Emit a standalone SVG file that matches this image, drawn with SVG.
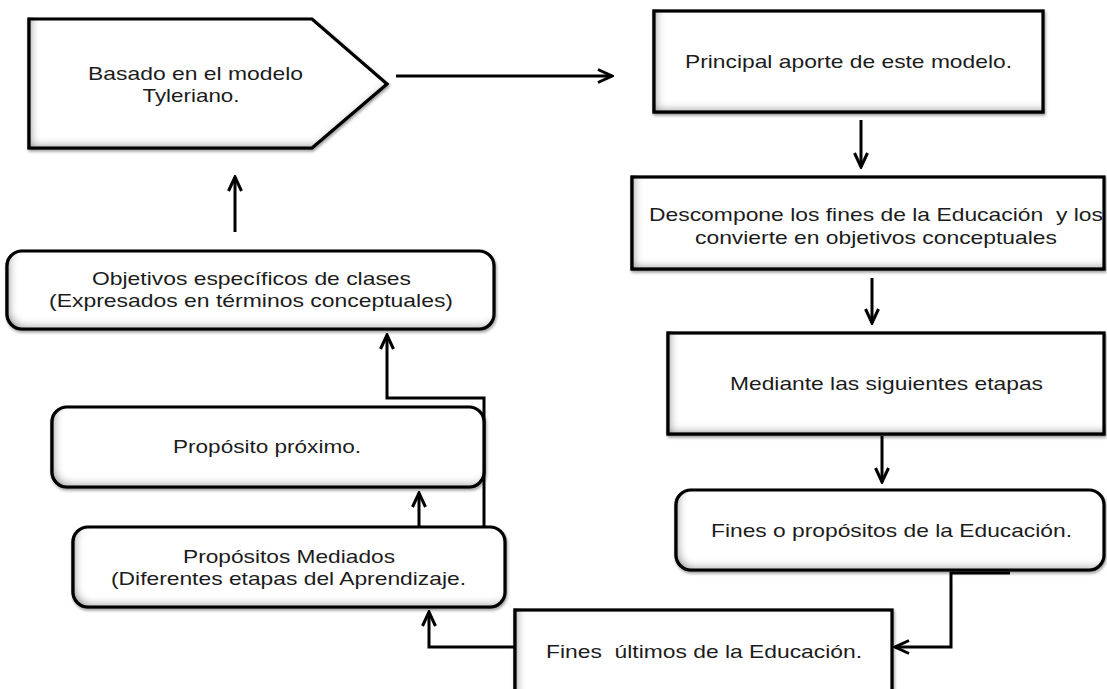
<svg xmlns="http://www.w3.org/2000/svg" width="1107" height="689" viewBox="0 0 1107 689">
<style>
.box{fill:#fff;stroke:#000;stroke-width:3.2;filter:url(#inset)}
.t{font-family:"Liberation Sans",Arial,sans-serif;font-size:18.5px;fill:#1c1c1c;text-anchor:middle}
.c{fill:none;stroke:#000;stroke-width:3;marker-end:url(#ah)}
</style>
<defs>
<filter id="inset" x="-5%" y="-5%" width="110%" height="115%">
<feFlood flood-color="#000" flood-opacity="0.75"/>
<feComposite in2="SourceAlpha" operator="out"/>
<feGaussianBlur stdDeviation="4"/>
<feOffset dx="4" dy="-4" result="sh"/>
<feComposite in="sh" in2="SourceAlpha" operator="in" result="inner"/>
<feGaussianBlur in="SourceAlpha" stdDeviation="1.5"/>
<feOffset dx="1" dy="2"/>
<feComponentTransfer><feFuncA type="linear" slope="0.4"/></feComponentTransfer>
<feMerge><feMergeNode/><feMergeNode in="SourceGraphic"/><feMergeNode in="inner"/></feMerge>
</filter>
<marker id="ah" viewBox="0 0 18 16" refX="16" refY="8" markerWidth="18" markerHeight="16" markerUnits="userSpaceOnUse" orient="auto">
<path d="M2,1.5 L16,8 L2,14.5" fill="none" stroke="#000" stroke-width="3" stroke-linejoin="miter"/>
</marker>
</defs>
<g id="connectors">
<path class="c" d="M396,76 L612,76"/>
<path class="c" d="M861,120 L861,167"/>
<path class="c" d="M872,278 L872,323"/>
<path class="c" d="M882,436 L882,482"/>
<path class="c" d="M1010,573 L951,573 L951,647 L895,647"/>
<path class="c" d="M515,647 L429,647 L429,612"/>
<path class="c" d="M419,527 L419,493"/>
<path class="c" d="M484,527 L484,398 L387,398 L387,335"/>
<path class="c" d="M235,232 L235,177"/>
</g>
<g id="n1">
<polygon class="box" points="29,19 312,19 387,84 312,148 29,148"/>
<text class="t" x="195.5" y="80" textLength="215" lengthAdjust="spacingAndGlyphs">Basado en el modelo</text>
<text class="t" x="191" y="102" textLength="97" lengthAdjust="spacingAndGlyphs">Tyleriano.</text>
</g>
<g id="n2">
<rect class="box" x="654" y="11" width="389" height="101"/>
<text class="t" x="848.5" y="68" textLength="327" lengthAdjust="spacingAndGlyphs">Principal aporte de este modelo.</text>
</g>
<g id="n3">
<rect class="box" x="632" y="177" width="472" height="92"/>
<text class="t" x="876" y="221" textLength="454" lengthAdjust="spacingAndGlyphs" xml:space="preserve">Descompone los fines de la Educación  y los</text>
<text class="t" x="876" y="244" textLength="362" lengthAdjust="spacingAndGlyphs">convierte en objetivos conceptuales</text>
</g>
<g id="n4">
<rect class="box" x="668" y="333" width="436" height="101"/>
<text class="t" x="886.5" y="390" textLength="313" lengthAdjust="spacingAndGlyphs">Mediante las siguientes etapas</text>
</g>
<g id="n5">
<rect class="box" x="676" y="490" width="428" height="80" rx="15" ry="15"/>
<text class="t" x="891.5" y="537" textLength="361" lengthAdjust="spacingAndGlyphs">Fines o propósitos de la Educación.</text>
</g>
<g id="n6">
<rect class="box" x="515" y="610" width="377" height="95"/>
<text class="t" x="704" y="658" textLength="316" lengthAdjust="spacingAndGlyphs" xml:space="preserve">Fines  últimos de la Educación.</text>
</g>
<g id="n7">
<rect class="box" x="73" y="527" width="432" height="80" rx="15" ry="15"/>
<text class="t" x="289" y="563" textLength="212" lengthAdjust="spacingAndGlyphs">Propósitos Mediados</text>
<text class="t" x="288.5" y="585" textLength="355" lengthAdjust="spacingAndGlyphs">(Diferentes etapas del Aprendizaje.</text>
</g>
<g id="n8">
<rect class="box" x="52" y="407" width="432" height="80" rx="15" ry="15"/>
<text class="t" x="267" y="453" textLength="188" lengthAdjust="spacingAndGlyphs">Propósito próximo.</text>
</g>
<g id="n9">
<rect class="box" x="7" y="251" width="487" height="78" rx="15" ry="15"/>
<text class="t" x="251.5" y="285" textLength="319" lengthAdjust="spacingAndGlyphs">Objetivos específicos de clases</text>
<text class="t" x="251" y="307" textLength="404" lengthAdjust="spacingAndGlyphs">(Expresados en términos conceptuales)</text>
</g>
</svg>
